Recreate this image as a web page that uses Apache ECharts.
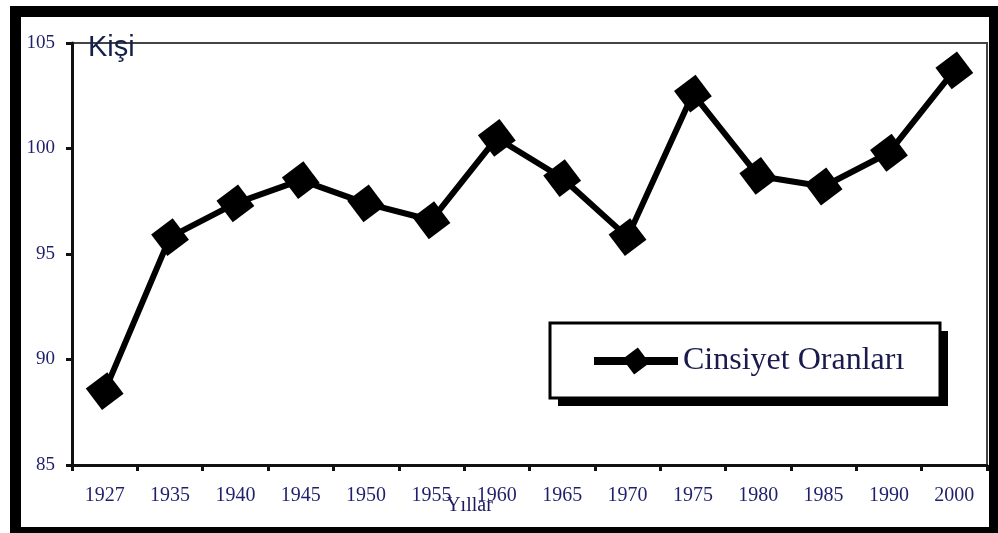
<!DOCTYPE html>
<html>
<head>
<meta charset="utf-8">
<script src="https://cdn.jsdelivr.net/npm/echarts@6/dist/echarts.min.js"></script>
<style>
  html, body { margin: 0; padding: 0; background: #fff; }
  #chart { width: 998px; height: 533px; }
</style>
</head>
<body>
<div id="chart"></div>
<script>
var years = ['1927', '1935', '1940', '1945', '1950', '1955', '1960', '1965', '1970', '1975', '1980', '1985', '1990', '2000'];
var ratios = [88.5, 95.8, 97.4, 98.5, 97.4, 96.6, 100.5, 98.6, 95.8, 102.6, 98.7, 98.2, 99.8, 103.7];
var seriesName = 'Cinsiyet Oranları';

var navy = '#1f1f6b';
var myChart = echarts.init(document.getElementById('chart'));

var option = {
    backgroundColor: '#fff',
    animation: false,
    grid: {
        left: 72,
        top: 43,
        right: 11,
        bottom: 68,
        outerBoundsMode: 'none',
        show: true,
        borderColor: '#444',
        borderWidth: 2
    },
    graphic: [
        // frame round the whole picture
        {
            type: 'rect',
            shape: { x: 15.5, y: 11.5, width: 979, height: 521 },
            style: { fill: 'none', stroke: '#000', lineWidth: 11 },
            silent: true
        },
        // legend box with its drop shadow
        {
            type: 'rect',
            z: 1,
            shape: { x: 558, y: 331, width: 390, height: 75 },
            style: { fill: '#000' },
            silent: true
        },
        {
            type: 'rect',
            z: 1,
            shape: { x: 550, y: 323, width: 390, height: 75 },
            style: { fill: '#fff', stroke: '#000', lineWidth: 3 },
            silent: true
        }
    ],
    legend: {
        left: 550,
        top: 323,
        z: 5,
        orient: 'horizontal',
        padding: [22, 33, 18, 40],
        itemWidth: 84,
        itemHeight: 24,
        lineStyle: { width: 8, color: '#000' },
        textStyle: {
            fontFamily: 'Liberation Serif',
            fontSize: 32,
            color: '#1a1a4e'
        },
        data: [seriesName]
    },
    xAxis: {
        type: 'category',
        data: years,
        boundaryGap: true,
        name: 'Yıllar',
        nameLocation: 'middle',
        nameGap: 31,
        nameMoveOverlap: false,
        nameTextStyle: {
            fontFamily: 'Liberation Serif',
            fontSize: 20,
            color: '#1a1a5e',
            padding: [0, 120, 0, 0]
        },
        axisLine: { lineStyle: { color: '#111', width: 3 } },
        axisTick: { show: true, inside: false, length: 6, lineStyle: { color: '#111', width: 3 } },
        axisLabel: {
            fontFamily: 'Liberation Serif',
            fontSize: 20,
            color: navy,
            margin: 21
        },
        splitLine: { show: false }
    },
    yAxis: {
        type: 'value',
        min: 85,
        max: 105,
        interval: 5,
        name: 'Kişi',
        nameLocation: 'end',
        nameGap: -5,
        nameMoveOverlap: false,
        nameTextStyle: {
            fontFamily: 'Liberation Sans',
            fontSize: 29,
            color: '#14204a',
            align: 'left',
            verticalAlign: 'middle',
            padding: [0, 0, 0, 16]
        },
        axisLine: { show: true, lineStyle: { color: '#111', width: 3 } },
        axisTick: { show: true, inside: false, length: 6, lineStyle: { color: '#111', width: 3 } },
        axisLabel: {
            fontFamily: 'Liberation Serif',
            fontSize: 19,
            color: navy,
            margin: 17
        },
        splitLine: { show: false }
    },
    series: [{
        name: seriesName,
        type: 'line',
        data: ratios,
        symbol: 'rect',
        symbolSize: 27,
        symbolRotate: 37,
        lineStyle: { color: '#000', width: 6 },
        itemStyle: { color: '#000' }
    }]
};
myChart.setOption(option);
</script>
</body>
</html>
